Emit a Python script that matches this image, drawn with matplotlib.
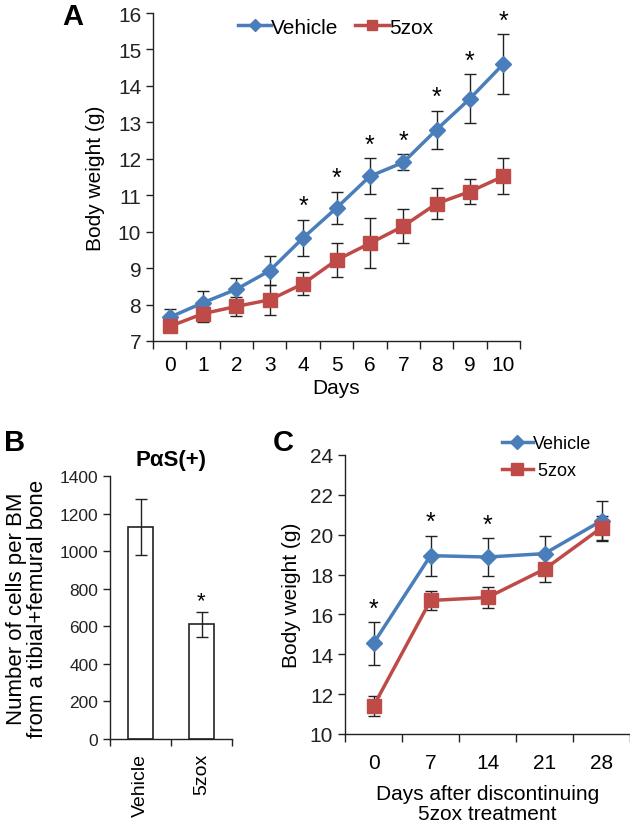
import numpy as np
import matplotlib
matplotlib.use("Agg")
import matplotlib.pyplot as plt

plt.rcParams['font.family'] = ['Liberation Sans', 'DejaVu Sans']

# panel A: body weight during treatment
days_a = [0, 1, 2, 3, 4, 5, 6, 7, 8, 9, 10]
veh_a = [7.65, 8.05, 8.42, 8.93, 9.83, 10.65, 11.52, 11.9, 12.8, 13.65, 14.6]
veh_a_err = [0.23, 0.32, 0.3, 0.4, 0.5, 0.45, 0.5, 0.22, 0.52, 0.67, 0.82]
zox_a = [7.4, 7.75, 7.95, 8.13, 8.57, 9.22, 9.68, 10.15, 10.77, 11.1, 11.52]
zox_a_err = [0.15, 0.23, 0.27, 0.42, 0.31, 0.46, 0.69, 0.46, 0.43, 0.35, 0.5]
star_a = [4, 5, 6, 7, 8, 9, 10]

# panel B: PaS(+) cells
groups_b = ['Vehicle', '5zox']
cells_b = [1130, 610]
cells_b_err = [150, 65]

# panel C: after discontinuing
days_c = ['0', '7', '14', '21', '28']
veh_c = [14.55, 18.95, 18.88, 19.05, 20.7]
veh_c_err = [1.07, 1.0, 0.95, 0.9, 1.0]
zox_c = [11.4, 16.7, 16.85, 18.27, 20.35]
zox_c_err = [0.5, 0.5, 0.55, 0.65, 0.6]
star_c = [0, 1, 2]

blue = '#4A7EBB'
red = '#BE4B48'
ink = '#222222'

W, H = 630, 829
fig = plt.figure(figsize=(6.3, 8.29), dpi=100)


def box(l, r, t, b):
    return [l / W, 1 - b / H, (r - l) / W, (b - t) / H]


def style(ax, fs):
    ax.spines['top'].set_visible(False)
    ax.spines['right'].set_visible(False)
    for s in ['left', 'bottom']:
        ax.spines[s].set_linewidth(1.0)
        ax.spines[s].set_color(ink)
    ax.tick_params(axis='y', direction='out', length=5, width=1, labelsize=fs, colors=ink)


def two_series(ax, x, v, ve, z, ze):
    ax.errorbar(x, v, yerr=ve, fmt='none', ecolor=ink, elinewidth=1, capsize=4, capthick=1, zorder=2)
    ax.errorbar(x, z, yerr=ze, fmt='none', ecolor=ink, elinewidth=1, capsize=4, capthick=1, zorder=2)
    ax.plot(x, v, color=blue, lw=2.5, marker='D', ms=8, label='Vehicle', zorder=3)
    ax.plot(x, z, color=red, lw=2.5, marker='s', ms=9.5, label='5zox', zorder=3)


# ---------- A ----------
ax = fig.add_axes(box(153, 520, 14, 342))
x = np.arange(len(days_a))
two_series(ax, x, veh_a, veh_a_err, zox_a, zox_a_err)
for i in star_a:
    ax.annotate('*', (i, veh_a[i] + veh_a_err[i]), xytext=(0, 1), textcoords='offset points',
                ha='center', va='bottom', fontsize=18)
ax.set_xlim(-0.5, len(days_a) - 0.5)
ax.set_ylim(7, 16)
ax.set_yticks(range(7, 17))
ax.set_xticks(np.arange(-0.5, len(days_a)), [''] * (len(days_a) + 1))
ax.set_xticks(x, [str(d) for d in days_a], minor=True)
style(ax, 15)
ax.tick_params(axis='x', which='major', direction='out', length=6, width=1, colors=ink)
ax.tick_params(axis='x', which='minor', length=0, labelsize=15, pad=10)
ax.set_xlabel('Days', fontsize=15, labelpad=3)
ax.set_ylabel('Body weight (g)', fontsize=15, labelpad=9)
ax.legend(loc='center left', bbox_to_anchor=(238 / W, 1 - 28 / H), bbox_transform=fig.transFigure,
          ncol=2, frameon=False, fontsize=15, handlelength=1.6, handletextpad=0.0,
          columnspacing=0.8, borderaxespad=0, borderpad=0, markerscale=0.8)
fig.text(62 / W, 1 - 17 / H, 'A', fontsize=21, fontweight='bold', va='center')

# ---------- B ----------
ax = fig.add_axes(box(110, 232, 477, 740))
xb = np.arange(len(groups_b))
ax.bar(xb, cells_b, width=0.4, color='white', edgecolor=ink, linewidth=1.2)
ax.errorbar(xb, cells_b, yerr=cells_b_err, fmt='none', ecolor=ink, elinewidth=1, capsize=4, capthick=1)
ax.annotate('*', (1, cells_b[1] + cells_b_err[1]), xytext=(0, 1), textcoords='offset points',
            ha='center', va='bottom', fontsize=16)
ax.set_xlim(-0.5, 1.5)
ax.set_ylim(0, 1400)
ax.set_yticks(range(0, 1401, 200))
ax.set_xticks([-0.5, 0.5, 1.5], ['', '', ''])
ax.set_xticks(xb, groups_b, minor=True)
style(ax, 12.5)
ax.tick_params(axis='x', which='major', direction='out', length=5, width=1, colors=ink)
ax.tick_params(axis='x', which='minor', length=0, labelsize=14, rotation=90, pad=10)
ax.set_ylabel('Number of cells per BM\nfrom a tibial+femural bone', fontsize=16, labelpad=8,
              linespacing=1.05)
ax.set_title('PαS(+)', fontsize=16, fontweight='bold', pad=8)
fig.text(4 / W, 1 - 443 / H, 'B', fontsize=21, fontweight='bold', va='center')

# ---------- C ----------
ax = fig.add_axes(box(345, 630, 456, 735))
xc = np.arange(len(days_c))
two_series(ax, xc, veh_c, veh_c_err, zox_c, zox_c_err)
for i in star_c:
    ax.annotate('*', (i, veh_c[i] + veh_c_err[i]), xytext=(0, 1), textcoords='offset points',
                ha='center', va='bottom', fontsize=18)
ax.set_xlim(-0.5, len(days_c) - 0.5)
ax.set_ylim(10, 24)
ax.set_yticks(range(10, 25, 2))
ax.set_xticks(np.arange(-0.5, len(days_c)), [''] * (len(days_c) + 1))
ax.set_xticks(xc, days_c, minor=True)
style(ax, 15)
ax.tick_params(axis='x', which='major', direction='out', length=6, width=1, colors=ink)
ax.tick_params(axis='x', which='minor', length=0, labelsize=15, pad=14)
ax.set_xlabel('Days after discontinuing\n5zox treatment', fontsize=15, labelpad=8,
              linespacing=1.1)
ax.set_ylabel('Body weight (g)', fontsize=15, labelpad=6)
leg = ax.legend(loc='upper left', bbox_to_anchor=(502 / W, 1 - 436 / H), bbox_transform=fig.transFigure,
                frameon=False, fontsize=13, handlelength=1.7, handletextpad=0.0, labelspacing=0.55,
                borderaxespad=0, borderpad=0, markerscale=0.85)
leg.get_texts()[1].set_text(' 5zox')
fig.text(273 / W, 1 - 443 / H, 'C', fontsize=21, fontweight='bold', va='center')

fig.savefig('out.png', dpi=100)
